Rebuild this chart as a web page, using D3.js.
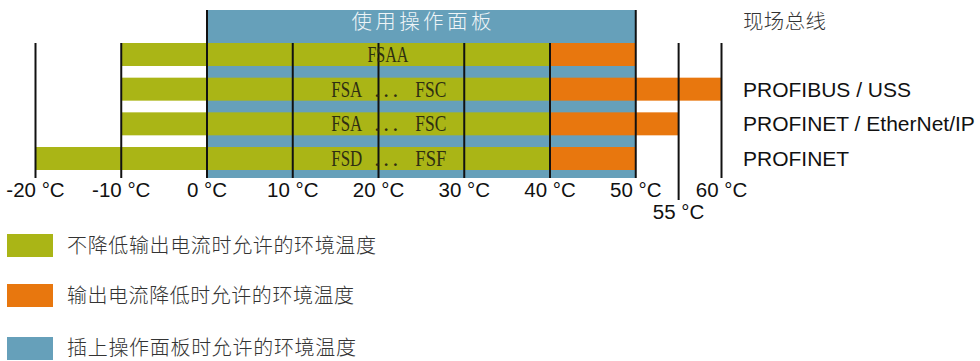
<!DOCTYPE html>
<html>
<head>
<meta charset="utf-8">
<script src="https://cdn.jsdelivr.net/npm/d3@7/dist/d3.min.js"></script>
<style>
html,body{margin:0;padding:0;background:#fff;}
svg{display:block;}
</style>
</head>
<body>
<div id="chart"></div>
<script>
// ---- data ----
const rowIds = ["fieldbus0", "profibus", "profinetEip", "profinet"];
const rowLabels = ["", "PROFIBUS / USS", "PROFINET / EtherNet/IP", "PROFINET"];
const greenStart = [-10, -10, -10, -20];
const greenEnd = [40, 40, 40, 40];
const orangeEnd = [50, 60, 55, 50];
const sizeFrom = ["FSAA", "FSA", "FSA", "FSD"];
const sizeTo = ["", "FSC", "FSC", "FSF"];
const tickValues = [-20, -10, 0, 10, 20, 30, 40, 50, 55, 60];
const tickLabels = ["-20 °C", "-10 °C", "0 °C", "10 °C", "20 °C", "30 °C", "40 °C", "50 °C", "55 °C", "60 °C"];
const panelRange = [0, 50];
const panelTitle = "使用操作面板";
const busTitle = "现场总线";
const legendLabels = ["不降低输出电流时允许的环境温度", "输出电流降低时允许的环境温度", "插上操作面板时允许的环境温度"];

const GREEN = "#aab516", ORANGE = "#e8770e", BLUE = "#66a0ba";
const legendColors = [GREEN, ORANGE, BLUE];

const W = 980, H = 361;
const svg = d3.select("#chart").append("svg").attr("width", W).attr("height", H);

const x = d3.scaleLinear().domain([-20, 60]).range([35.5, 721.5]);
const y = d3.scaleBand().domain(rowIds).range([43, 170]).paddingInner(0.337).paddingOuter(0);
const bw = y.bandwidth();

const panelTop = 10, panelBottom = 178;
const cjk = "Noto Sans CJK SC, sans-serif";

// blue panel
svg.append("rect")
  .attr("x", x(panelRange[0])).attr("y", panelTop)
  .attr("width", x(panelRange[1]) - x(panelRange[0]))
  .attr("height", panelBottom - panelTop)
  .attr("fill", BLUE);

svg.append("text")
  .attr("x", x(25)).attr("y", 28.5)
  .attr("text-anchor", "middle")
  .attr("font-family", cjk).attr("font-weight", 300)
  .attr("font-size", 20.5)
  .attr("fill", "#eef4f7")
  .attr("textLength", 140).attr("lengthAdjust", "spacing")
  .text(panelTitle);

// bars
const rows = rowIds.map((id, i) => ({id, gs: greenStart[i], ge: greenEnd[i], oe: orangeEnd[i]}));
svg.selectAll("rect.g").data(rows).join("rect").attr("class", "g")
  .attr("x", d => x(d.gs)).attr("y", d => y(d.id))
  .attr("width", d => x(d.ge) - x(d.gs)).attr("height", bw)
  .attr("fill", GREEN);
svg.selectAll("rect.o").data(rows).join("rect").attr("class", "o")
  .attr("x", d => x(d.ge)).attr("y", d => y(d.id))
  .attr("width", d => x(d.oe) - x(d.ge)).attr("height", bw)
  .attr("fill", ORANGE);

// vertical lines
const lineData = tickValues.map((v, i) => ({
  v,
  top: (v === panelRange[0] || v === panelRange[1]) ? panelTop : 43,
  bottom: v === 55 ? 200 : panelBottom
}));
svg.selectAll("line.t").data(lineData).join("line").attr("class", "t")
  .attr("x1", d => x(d.v)).attr("x2", d => x(d.v))
  .attr("y1", d => d.top).attr("y2", d => d.bottom)
  .attr("stroke", "#111").attr("stroke-width", 2);

// tick labels
svg.selectAll("text.tl").data(tickValues).join("text").attr("class", "tl")
  .attr("x", d => x(d)).attr("y", d => d === 55 ? 219 : 197)
  .attr("text-anchor", "middle")
  .attr("font-family", "Liberation Sans, Arial, sans-serif")
  .attr("font-size", 20.5)
  .attr("fill", "#111")
  .text((d, i) => tickLabels[i]);

// inner labels
const serif = "Liberation Serif, Times New Roman, serif";
const innerColor = "#2e2e12";
rows.forEach((d, i) => {
  const cy = y(d.id) + bw / 2 + 7.5;
  if (!sizeTo[i]) {
    svg.append("text").attr("x", x(21.1)).attr("y", cy)
      .attr("text-anchor", "middle").attr("font-family", serif).attr("font-size", 23)
      .attr("fill", innerColor).attr("textLength", 41).attr("lengthAdjust", "spacingAndGlyphs")
      .text(sizeFrom[i]);
  } else {
    svg.append("text").attr("x", x(14.5)).attr("y", cy)
      .attr("font-family", serif).attr("font-size", 23)
      .attr("fill", innerColor).attr("textLength", 31).attr("lengthAdjust", "spacingAndGlyphs")
      .text(sizeFrom[i]);
    svg.append("text").attr("x", x(19.5)).attr("y", cy)
      .attr("font-family", serif).attr("font-size", 23)
      .attr("fill", innerColor).attr("textLength", 24).attr("lengthAdjust", "spacing")
      .text("...");
    svg.append("text").attr("x", x(24.3)).attr("y", cy)
      .attr("font-family", serif).attr("font-size", 23)
      .attr("fill", innerColor).attr("textLength", 31).attr("lengthAdjust", "spacingAndGlyphs")
      .text(sizeTo[i]);
  }
});

// right labels
svg.append("text").attr("x", 743).attr("y", 29)
  .attr("font-family", cjk).attr("font-weight", 300).attr("font-size", 20.5)
  .attr("fill", "#333").attr("textLength", 83).attr("lengthAdjust", "spacing")
  .text(busTitle);
svg.selectAll("text.rl").data(rows).join("text").attr("class", "rl")
  .attr("x", 743).attr("y", d => y(d.id) + bw / 2 + 7.5)
  .attr("font-family", "Liberation Sans, Arial, sans-serif")
  .attr("font-size", 21)
  .attr("fill", "#111")
  .text((d, i) => rowLabels[i]);

// legend
const legY = [234, 284, 337];
const legW = [309, 287, 289];
legendLabels.forEach((t, i) => {
  svg.append("rect").attr("x", 7).attr("y", legY[i]).attr("width", 46).attr("height", 23)
    .attr("fill", legendColors[i]);
  svg.append("text").attr("x", 67).attr("y", Math.min(legY[i] + 19, 354.5))
    .attr("font-family", cjk).attr("font-weight", 300).attr("font-size", 20)
    .attr("fill", "#333").attr("textLength", legW[i]).attr("lengthAdjust", "spacing")
    .text(t);
});
</script>
</body>
</html>
